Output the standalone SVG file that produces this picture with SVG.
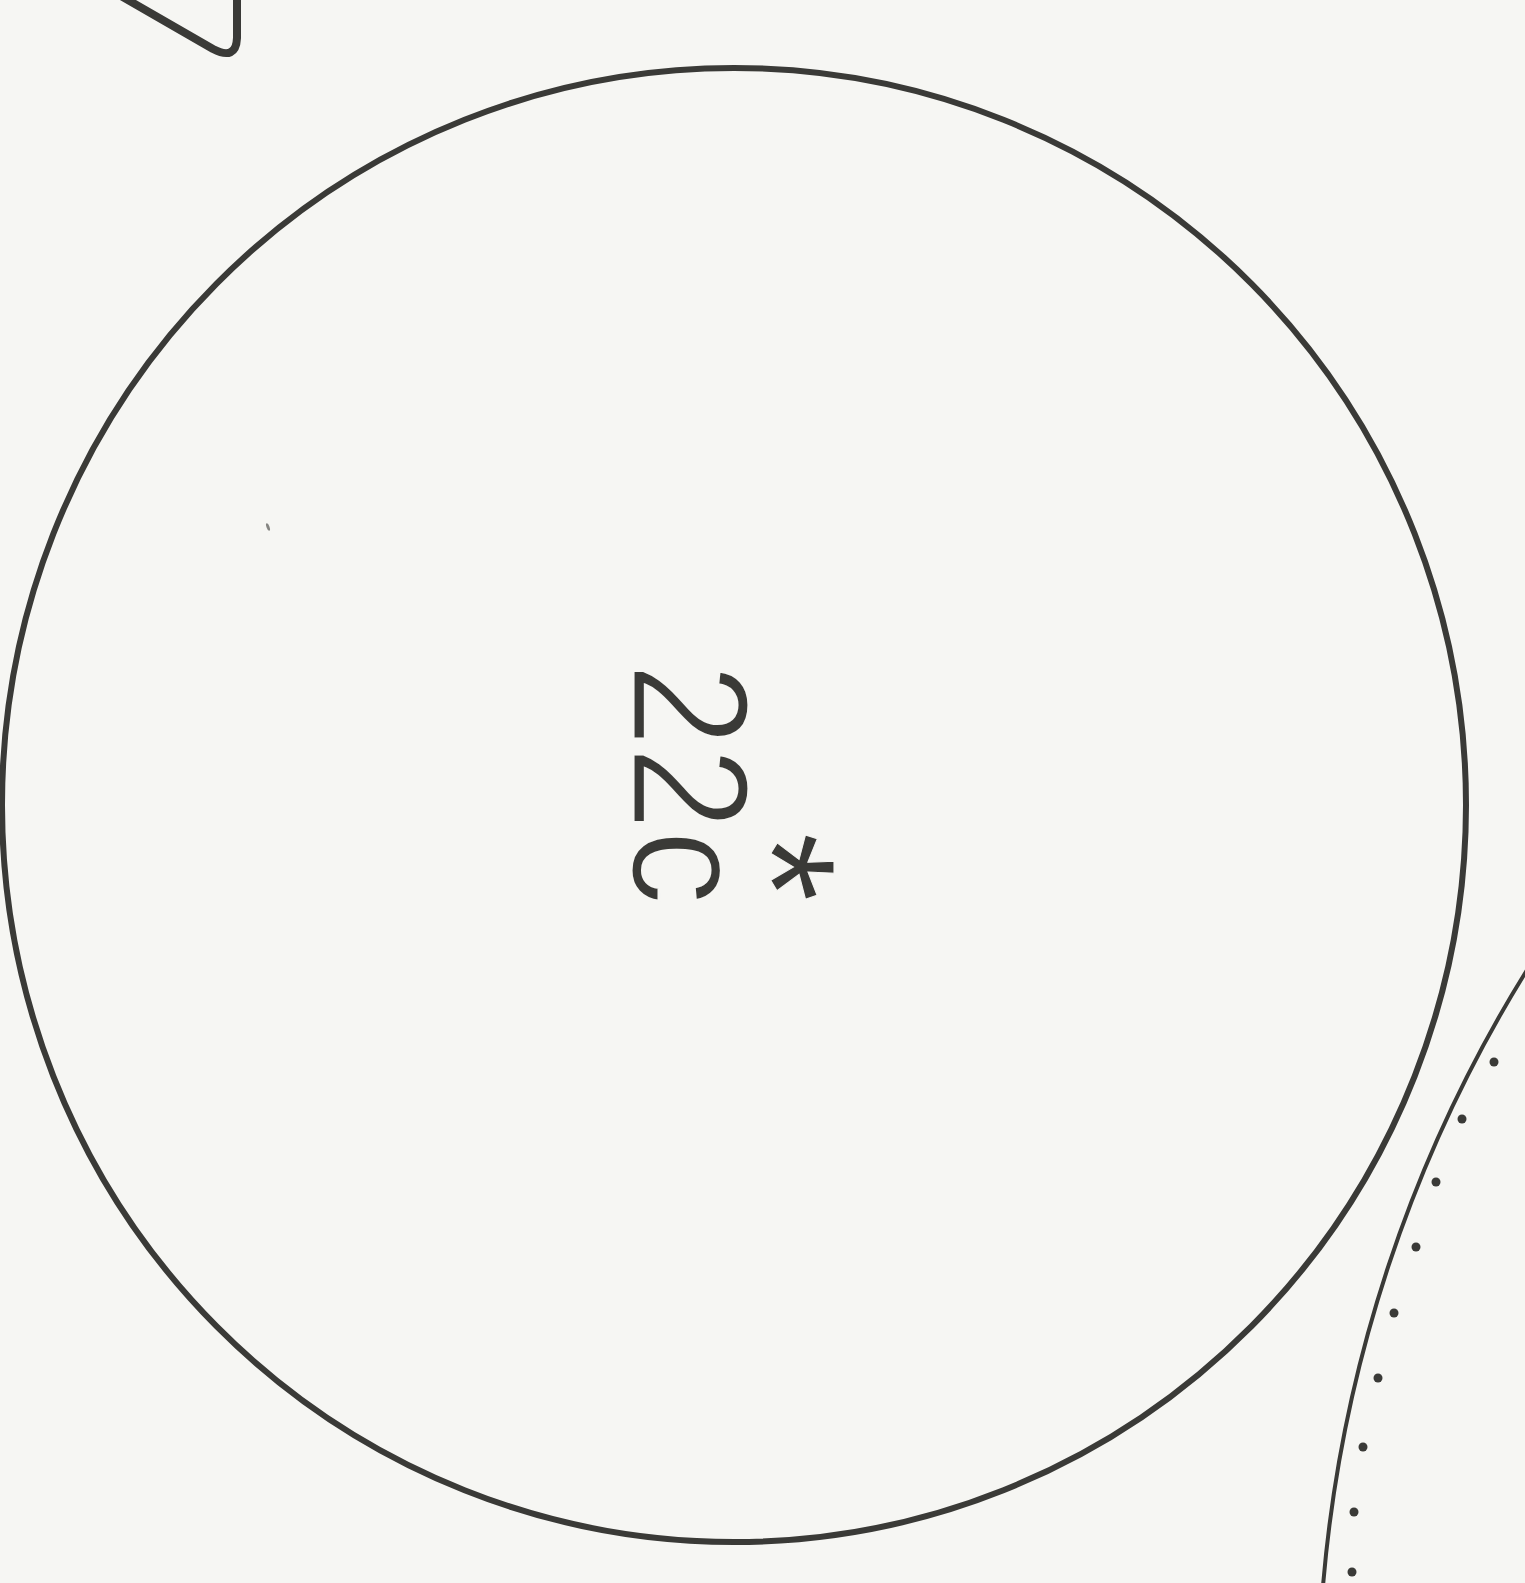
<svg xmlns="http://www.w3.org/2000/svg" width="1525" height="1583" viewBox="0 0 1525 1583">
  <style>
    .ink { fill: none; stroke: #3a3a37; stroke-linecap: round; stroke-linejoin: round; }
    .dot { fill: #3a3a37; }
    .lbl { fill: #3a3a37; font-family: "Liberation Sans", Arial, sans-serif; stroke: #f6f6f3; stroke-width: 3; paint-order: normal; }
  </style>
  <rect x="0" y="0" width="1525" height="1583" fill="#f6f6f3"/>
  <g id="corner-shape">
    <path class="ink" stroke-width="8" d="M121,-4 L213,49 Q236,61 237,38 L237,-4"/>
  </g>
  <g id="big-circle">
    <ellipse class="ink" stroke-width="6" cx="734" cy="805" rx="732" ry="737"/>
    <text class="lbl" font-size="166" textLength="242" lengthAdjust="spacingAndGlyphs" transform="translate(633,663) rotate(90)">22c</text>
    <text class="lbl" font-size="180" text-anchor="middle" style="stroke-width:1" transform="translate(710,867) rotate(90)">*</text>
    <ellipse class="dot" cx="268" cy="527" rx="1.5" ry="4" transform="rotate(-20 268 527)" fill-opacity="0.6"/>
  </g>
  <g id="dotted-arc">
    <path class="ink" stroke-width="4" d="M1527,970 A1386,1386 0 0 0 1323,1586"/>
    <circle class="dot" cx="1494" cy="1062" r="4.5"/>
    <circle class="dot" cx="1462" cy="1119" r="4.5"/>
    <circle class="dot" cx="1436" cy="1182" r="4.5"/>
    <circle class="dot" cx="1416" cy="1247" r="4.5"/>
    <circle class="dot" cx="1394" cy="1313" r="4.5"/>
    <circle class="dot" cx="1378" cy="1378" r="4.5"/>
    <circle class="dot" cx="1363" cy="1447" r="4.5"/>
    <circle class="dot" cx="1354" cy="1512" r="4.5"/>
    <circle class="dot" cx="1352" cy="1572" r="4.5"/>
  </g>
</svg>
